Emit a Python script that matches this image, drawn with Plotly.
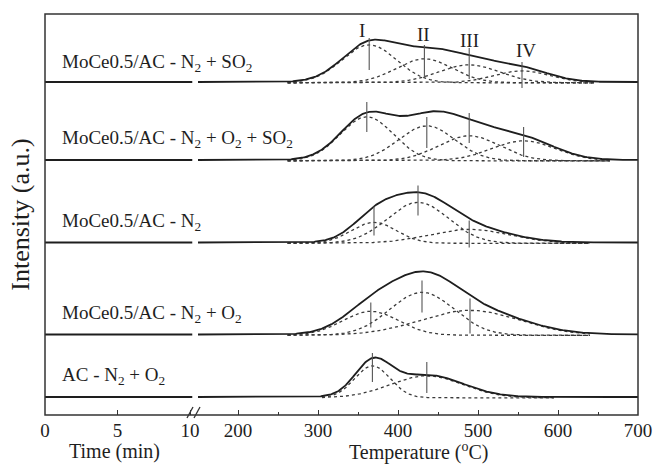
import numpy as np
import plotly.graph_objects as go

# ---------------- data ----------------
sample_labels = [
    "MoCe0.5/AC - N<sub>2</sub> + SO<sub>2</sub>",
    "MoCe0.5/AC - N<sub>2</sub> + O<sub>2</sub> + SO<sub>2</sub>",
    "MoCe0.5/AC - N<sub>2</sub>",
    "MoCe0.5/AC - N<sub>2</sub> + O<sub>2</sub>",
    "AC - N<sub>2</sub> + O<sub>2</sub>",
]
# deconvoluted peaks (centre in degC, height a.u., width sigma degC)
peak_centers = [[364, 433, 489, 555], [361, 436, 489, 557], [370, 425, 489], [366, 430, 490], [368, 436]]
peak_heights = [[38, 24, 18, 12], [44, 35, 25, 20], [21, 41, 14], [24, 43, 25], [32, 22]]
peak_sigmas = [[34, 35, 38, 35], [33, 35, 38, 40], [28, 38, 50], [35, 40, 62], [22, 45]]
# vertical peak markers: (low, high) intensity relative to each curve baseline
marker_spans = [
    [(12, 44), (5, 37), (3, 34), (-6, 20)],
    [(28, 58), (12, 43), (17, 47), (3, 33)],
    [(7, 36), (27, 57), (-5, 22)],
    [(7, 32), (22, 54), (1, 36)],
    [(15, 44), (4, 35)],
]
peak_names = ["I", "II", "III", "IV"]
peak_name_pos = [(355, 385), (432, 381), (489, 375), (560, 365)]  # (T, intensity)

time_min = [0, 2, 4, 6, 8, 10.15]
time_signal = [0, 0, 0, 0, 0, 0]

x_titles = ["Time (min)", "Temperature (<sup>o</sup>C)"]
y_title = "Intensity (a.u.)"

# ---------------- layout / style ----------------
stack_offset = [333, 255, 172.5, 80.5, 18]
fit_range = [(262, 645), (262, 665), (262, 640), (262, 640), (305, 595)]
FONT = "Liberation Serif, Times New Roman, serif"
INK = "#1e1e1e"

W, H = 656, 466
ML, MR, MT, MB = 45, 18, 14, 51
pw = W - ML - MR
ph = H - MT - MB
x1_end = (193 - ML) / pw
x2_start = (198 - ML) / pw

T = np.arange(149, 701, 1.0)

fig = go.Figure()

for i in range(5):
    off = stack_offset[i]
    comps = []
    for c, h, s in zip(peak_centers[i], peak_heights[i], peak_sigmas[i]):
        comps.append(h * np.exp(-((T - c) ** 2) / (2 * s * s)))
    total = np.sum(comps, axis=0)
    lo, hi = fit_range[i]
    m = (T >= lo) & (T <= hi)
    for comp in comps:
        fig.add_trace(go.Scatter(x=T[m], y=comp[m] + off - 0.8, xaxis="x2", yaxis="y",
                                 mode="lines", line=dict(color="#3a3a3a", width=1.3, dash="dot"),
                                 showlegend=False, hoverinfo="skip"))
    fig.add_trace(go.Scatter(x=T, y=total + off, xaxis="x2", yaxis="y", mode="lines",
                             line=dict(color=INK, width=1.8), showlegend=False))
    fig.add_trace(go.Scatter(x=time_min, y=np.array(time_signal) + off, xaxis="x", yaxis="y",
                             mode="lines", line=dict(color=INK, width=1.8), showlegend=False))
    for c, (a, b) in zip(peak_centers[i], marker_spans[i]):
        fig.add_trace(go.Scatter(x=[c, c], y=[a + off, b + off], xaxis="x2", yaxis="y",
                                 mode="lines", line=dict(color="#555", width=1.1),
                                 showlegend=False, hoverinfo="skip"))
    fig.add_annotation(x=1.03, y=off + 21 if i != 0 else off + 19, xref="x", yref="y",
                       text=sample_labels[i], showarrow=False, xanchor="left", yanchor="middle",
                       font=dict(family=FONT, size=19, color=INK))

for name, (tx, ty) in zip(peak_names, peak_name_pos):
    fig.add_annotation(x=tx, y=ty, xref="x2", yref="y", text=name, showarrow=False,
                       xanchor="center", yanchor="middle",
                       font=dict(family=FONT, size=19, color=INK))

# axis titles placed under each axis segment
for txt, xc in zip(x_titles, [(114 - ML) / pw, (418 - ML) / pw]):
    fig.add_annotation(x=xc, y=(415 - 451) / ph, xref="paper", yref="paper", text=txt,
                       showarrow=False, xanchor="center", yanchor="middle",
                       font=dict(family=FONT, size=20, color=INK))

# frame and axis break marks
fig.add_shape(type="rect", xref="paper", yref="paper", x0=0, x1=1, y0=0, y1=1,
              line=dict(color="#333", width=1.5))
for xa, xb in [(187, 193), (194, 200)]:
    fig.add_shape(type="line", xref="paper", yref="paper",
                  x0=(xa - ML) / pw, x1=(xb - ML) / pw,
                  y0=(415 - 418) / ph, y1=(415 - 407) / ph,
                  line=dict(color="#333", width=1.3))

axis_common = dict(showline=False, showgrid=False, zeroline=False, ticks="inside",
                   ticklen=5, tickwidth=1.2, tickcolor="#333",
                   tickfont=dict(family=FONT, size=19, color=INK), ticklabelstandoff=2)

fig.update_layout(
    width=W, height=H, margin=dict(l=ML, r=MR, t=MT, b=MB, autoexpand=False),
    paper_bgcolor="white", plot_bgcolor="white",
    xaxis=dict(domain=[0, x1_end], range=[0, 10.2], tickvals=[0, 5, 10], anchor="y",
               **axis_common),
    xaxis2=dict(domain=[x2_start, 1], range=[150, 700], tickvals=[200, 300, 400, 500, 600, 700],
                anchor="y", minor=dict(dtick=50, tick0=0, ticks="inside", ticklen=3, tickcolor="#333"),
                **axis_common),
    yaxis=dict(domain=[0, 1], range=[0, 401], showticklabels=False, ticks="", showline=False,
               showgrid=False, zeroline=False,
               title=dict(text=y_title, font=dict(family=FONT, size=26, color=INK), standoff=6)),
)

fig.write_html("out.html")
